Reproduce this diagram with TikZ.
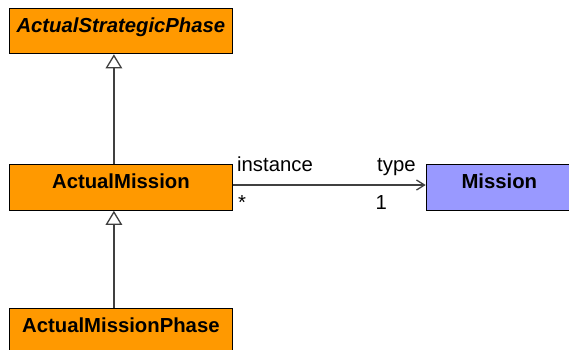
\documentclass[tikz,border=0pt]{standalone}
\usepackage{fontspec}
\setmainfont{Liberation Sans}
\usetikzlibrary{arrows.meta}
\definecolor{umlorange}{HTML}{FF9900}
\definecolor{umlpurple}{HTML}{9999FF}
\definecolor{linegray}{HTML}{404040}
\begin{document}
\begin{tikzpicture}[x=1pt,y=-1pt,
  classbox/.style={draw=black, line width=1.3pt, inner sep=0pt, anchor=north west,
    text height=24pt, text depth=21.5pt, font=\fontsize{20.3}{24}\selectfont\bfseries},
  lbl/.style={inner sep=0pt, anchor=base west, font=\fontsize{20.3}{24}\selectfont},
  gen/.style={draw=linegray, line width=1.3pt, -{Triangle[open, length=14pt, width=16.5pt, line width=1.3pt]}},
  assoc/.style={draw=linegray, line width=1.3pt, -{Straight Barb[length=8pt, width=10pt, line width=1.3pt]}}]
\useasboundingbox (0,0) rectangle (569,349);
\node[classbox, fill=umlorange, minimum width=223.5pt] (asp) at (8.5,7.5) {\itshape ActualStrategicPhase};
\node[classbox, fill=umlorange, minimum width=223.5pt] (am) at (8.5,164) {ActualMission};
\node[classbox, fill=umlorange, minimum width=223.5pt] (amp) at (8.5,307.7) {ActualMissionPhase};
\node[classbox, fill=umlpurple, minimum width=146pt] (mis) at (425.7,164) {Mission};
\draw[gen] ([xshift=-7pt]am.north) -- ([xshift=-7pt]asp.south);
\draw[gen] ([xshift=-7pt]amp.north) -- ([xshift=-7pt]am.south);
\draw[assoc] ([yshift=2.4pt]am.east) -- ([yshift=2.4pt]mis.west);
\node[lbl] (linst) at (237,171.7) {instance};
\node[lbl] (ltype) at (377,171.7) {type};
\node[lbl] (lstar) at (238,209.3) {*};
\node[lbl] (lone) at (375.5,209.3) {1};
\end{tikzpicture}
\end{document}
